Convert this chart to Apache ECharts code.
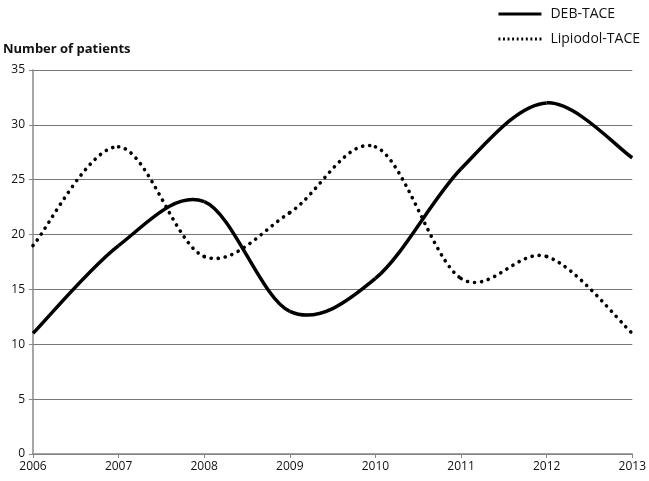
<!DOCTYPE html>
<html><head><meta charset="utf-8">
<script src="https://cdn.jsdelivr.net/npm/echarts@6/dist/echarts.min.js"></script>
<style>html,body{margin:0;padding:0;background:#fff}#c{width:649px;height:481px}</style>
</head><body><div id="c"></div>
<script>
var years = ['2006','2007','2008','2009','2010','2011','2012','2013'];
var debTace = [11, 19, 23, 13, 16, 26, 32, 27];
var lipiodolTace = [19, 28, 18, 22, 28, 16, 18, 11];
var yTicks = [0, 5, 10, 15, 20, 25, 30, 35];

var chart = echarts.init(document.getElementById('c'));
var font = 'Open Sans, Liberation Sans, sans-serif';

// Excel-style smoothed line: Catmull-Rom segments through the data points,
// positioned with the chart's own axes (api.coord).
function makeRender(values, dotted) {
  return function (params, api) {
    var i = params.dataIndex;
    var n = values.length;
    if (i >= n - 1) return null;
    function pt(k) { k = Math.max(0, Math.min(n - 1, k)); return api.coord([k, values[k]]); }
    var p0 = pt(i - 1), p1 = pt(i), p2 = pt(i + 1), p3 = pt(i + 2);
    var t = 1 / 6;
    var style = {stroke: '#000', fill: null, lineWidth: 3.5};
    if (dotted) { style.lineDash = [0.1, 7]; style.lineCap = 'round'; style.lineWidth = 3.6; }
    return {
      type: 'bezierCurve',
      shape: {
        x1: p1[0], y1: p1[1], x2: p2[0], y2: p2[1],
        cpx1: p1[0] + (p2[0] - p0[0]) * t, cpy1: p1[1] + (p2[1] - p0[1]) * t,
        cpx2: p2[0] - (p3[0] - p1[0]) * t, cpy2: p2[1] - (p3[1] - p1[1]) * t
      },
      style: style
    };
  };
}
function toData(values) { return values.map(function (v, i) { return [i, v]; }); }

var dotIcon = 'path://';
for (var d = 0; d < 10; d++) { var x0 = d * 4.8; dotIcon += 'M' + x0 + ',0h2v3h-2z'; }

chart.setOption({
  animation: false,
  backgroundColor: '#fff',
  textStyle: {fontFamily: font},
  grid: {left: 32, right: 10, top: 70, bottom: 27, containLabel: false},
  legend: {
    orient: 'vertical', right: 4, top: 2, itemGap: 11, itemWidth: 43, itemHeight: 3,
    textStyle: {fontSize: 14, color: '#111', fontFamily: font, padding: [0, 0, 0, 4]},
    data: [
      {name: 'DEB-TACE', icon: 'rect', itemStyle: {color: '#000'}},
      {name: 'Lipiodol-TACE', icon: dotIcon, itemStyle: {color: '#000'}}
    ]
  },
  xAxis: {
    type: 'category', data: years, boundaryGap: false,
    axisLine: {lineStyle: {color: '#888', width: 1.5}},
    axisTick: {show: true, length: 4, lineStyle: {color: '#888'}},
    axisLabel: {color: '#111', fontSize: 12, margin: 7, fontFamily: font}
  },
  yAxis: {
    type: 'value', min: yTicks[0], max: yTicks[yTicks.length - 1], interval: 5,
    name: 'Number of patients', nameLocation: 'end', nameGap: 14,
    nameTextStyle: {fontWeight: 'bold', fontSize: 13, color: '#111', align: 'left', padding: [0, 0, 0, -30]},
    axisLine: {show: true, lineStyle: {color: '#888', width: 1.5}},
    axisTick: {show: true, length: 4, lineStyle: {color: '#888'}},
    axisLabel: {color: '#111', fontSize: 12, margin: 8, fontFamily: font},
    splitLine: {show: true, lineStyle: {color: '#777', width: 1.2}}
  },
  series: [
    {name: 'DEB-TACE', type: 'custom', data: toData(debTace), encode: {x: 0, y: 1},
     itemStyle: {color: '#000'}, renderItem: makeRender(debTace, false)},
    {name: 'Lipiodol-TACE', type: 'custom', data: toData(lipiodolTace), encode: {x: 0, y: 1},
     itemStyle: {color: '#000'}, renderItem: makeRender(lipiodolTace, true)}
  ]
});
</script></body></html>
